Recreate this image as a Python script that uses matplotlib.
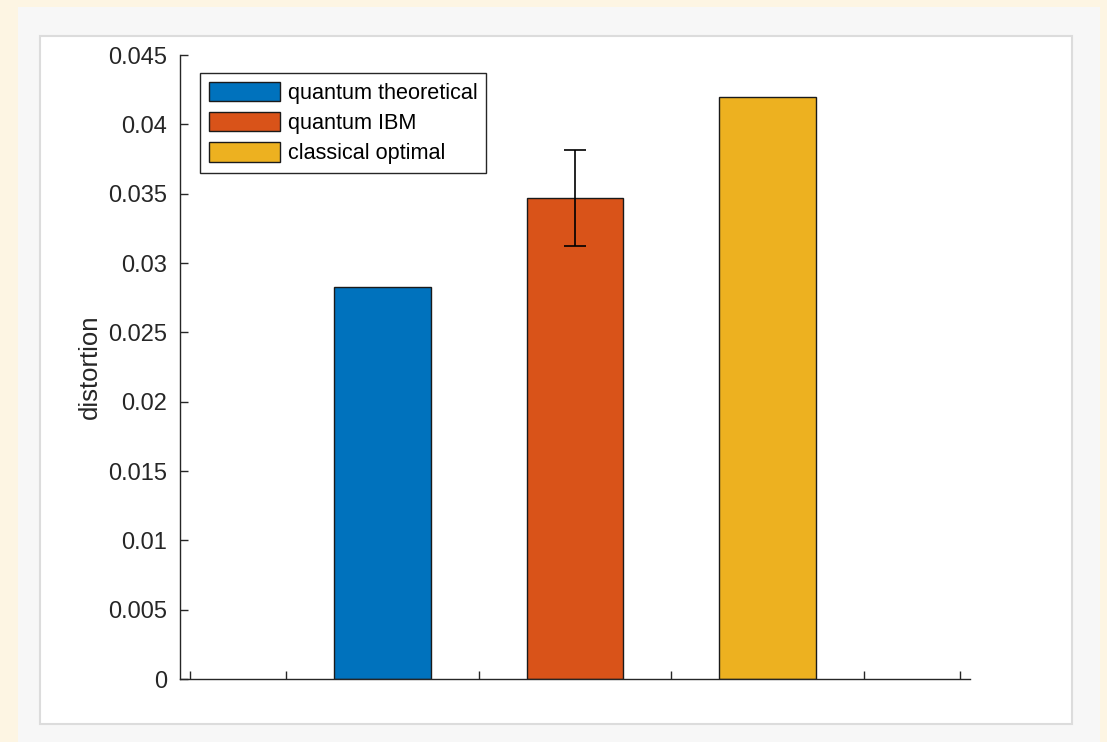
import matplotlib
matplotlib.use('Agg')
import matplotlib.pyplot as plt
from matplotlib.patches import Rectangle

plt.rcParams['font.family'] = ['Liberation Sans', 'DejaVu Sans']

# bar data
labels = ['quantum theoretical', 'quantum IBM', 'classical optimal']
positions = [1, 2, 3]
values = [0.02829, 0.03467, 0.04195]
errors = [None, 0.00345, None]
colors = ['#0072BD', '#D95319', '#EDB120']

yticks = [0, 0.005, 0.01, 0.015, 0.02, 0.025, 0.03, 0.035, 0.04, 0.045]
ytick_labels = ['0', '0.005', '0.01', '0.015', '0.02', '0.025', '0.03', '0.035', '0.04', '0.045']
xticks = [0, 0.5, 1.5, 2.5, 3.5, 4]

W, H = 1107, 742
fig = plt.figure(figsize=(W / 100, H / 100), dpi=100)
fig.patch.set_facecolor('#FDF5E3')

# background panels (pixel coords converted to figure fractions)
def px_rect(x0, y0, x1, y1, **kw):
    return Rectangle((x0 / W, 1 - y1 / H), (x1 - x0) / W, (y1 - y0) / H,
                     transform=fig.transFigure, **kw)

fig.patches.append(px_rect(18, 7, 1100, 742, facecolor='#F7F7F7', edgecolor='none', zorder=-2))
fig.patches.append(px_rect(40, 36, 1072, 724, facecolor='white', edgecolor='#DCDCDC',
                           linewidth=1.5, zorder=-1))

ax = fig.add_axes([180 / W, 1 - 679 / H, 790 / W, 624 / H])
ax.set_zorder(2)
ax.set_facecolor('white')

for p, v, e, c, lab in zip(positions, values, errors, colors, labels):
    ax.bar(p, v, width=0.5, color=c, edgecolor='#1a1a1a', linewidth=1.0, label=lab, zorder=2)
    if e is not None:
        ax.errorbar(p, v, yerr=e, fmt='none', ecolor='black', elinewidth=1.2,
                    capsize=8, capthick=1.2, zorder=3)

ax.set_xlim(-0.052, 4.052)
ax.set_ylim(0, 0.045)
ax.set_xticks(xticks)
ax.set_xticklabels([])
ax.set_yticks(yticks)
ax.set_yticklabels(ytick_labels)

for side in ['top', 'right']:
    ax.spines[side].set_visible(False)
for side in ['left', 'bottom']:
    ax.spines[side].set_color('#262626')
    ax.spines[side].set_linewidth(1.0)

ax.tick_params(axis='both', direction='in', length=6, width=1.0, color='#262626',
               labelsize=17, labelcolor='#262626')
ax.tick_params(axis='y', pad=9)
ax.set_ylabel('distortion', fontsize=18.5, color='#262626', labelpad=5)

leg = ax.legend(loc='upper left', bbox_to_anchor=(20 / 790, 1 - 18 / 624), fontsize=15.6,
                frameon=True, fancybox=False, edgecolor='#262626', framealpha=1,
                handlelength=3.3, handleheight=1.0, handletextpad=0.35,
                borderpad=0.4, labelspacing=0.38, borderaxespad=0)
leg.get_frame().set_linewidth(1.0)

fig.savefig('out.png', dpi=100, facecolor=fig.get_facecolor())
